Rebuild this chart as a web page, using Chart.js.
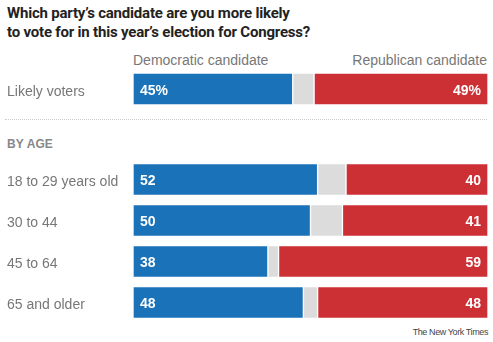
<!DOCTYPE html>
<html>
<head>
<meta charset="utf-8">
<script src="https://cdn.jsdelivr.net/npm/chart.js@4"></script>
<style>
  html, body { margin: 0; padding: 0; background: #fff; }
  body { width: 493px; height: 342px; position: relative; overflow: hidden; font-family: "Liberation Sans", Arial, sans-serif; }
  .title { position: absolute; left: 7px; top: 4px; font-family: Roboto, "Liberation Sans", sans-serif; font-size: 15px; font-weight: bold; color: #222; line-height: 19px; letter-spacing: -0.2px; }
  .hdr { position: absolute; top: 52px; font-size: 14px; color: #777; }
  .sep { position: absolute; left: 5px; width: 482px; top: 119px; border-top: 1px dotted #ccc; }
  .byage { position: absolute; left: 7px; top: 137px; font-size: 12px; font-weight: bold; color: #888; letter-spacing: 0.1px; }
  .credit { position: absolute; right: 5px; top: 327px; font-size: 9px; color: #444; letter-spacing: -0.4px; }
  .box { position: absolute; left: 0; width: 493px; }
</style>
</head>
<body>
<div class="title">Which party’s candidate are you more likely<br>to vote for in this year’s election for Congress?</div>
<div class="hdr" style="left:133px;">Democratic candidate</div>
<div class="hdr" style="right:6px;">Republican candidate</div>
<div class="box" style="top:68px;height:42px;"><canvas id="c1"></canvas></div>
<div class="sep"></div>
<div class="byage">BY AGE</div>
<div class="box" style="top:159px;height:164px;"><canvas id="c2"></canvas></div>
<div class="credit">The New York Times</div>
<script>
// Data
const topCategories = ["Likely voters"];
const topDem = [45];
const topOther = [6];
const topRep = [49];

const ageCategories = ["18 to 29 years old", "30 to 44", "45 to 64", "65 and older"];
const ageDem = [52, 50, 38, 48];
const ageOther = [8, 9, 3, 4];
const ageRep = [40, 41, 59, 48];

const BLUE = "#1a72b8", GRAY = "#dcdcdc", RED = "#cc3035";

const labelPlugin = {
  id: "segLabels",
  afterDatasetsDraw(chart) {
    const ctx = chart.ctx;
    const suffix = chart.options.plugins.segLabels.suffix || "";
    ctx.save();
    ctx.font = "bold 14px 'Liberation Sans', Arial, sans-serif";
    ctx.fillStyle = "#fff";
    ctx.textBaseline = "middle";
    [0, 2].forEach(di => {
      const meta = chart.getDatasetMeta(di);
      const ds = chart.data.datasets[di];
      meta.data.forEach((el, i) => {
        const txt = ds.data[i] + (i === 0 ? suffix : "");
        if (di === 0) {
          ctx.textAlign = "left";
          ctx.fillText(txt, Math.min(el.base, el.x) + 7, el.y + 2);
        } else {
          ctx.textAlign = "right";
          ctx.fillText(txt, Math.max(el.base, el.x) - 7, el.y + 2);
        }
      });
    });
    ctx.restore();
  }
};

function makeChart(id, cats, dem, other, rep, suffix) {
  const ds = (data, color) => ({
    data, backgroundColor: color, borderColor: "#fff", borderWidth: 1,
    borderSkipped: false, barThickness: 32
  });
  return new Chart(document.getElementById(id), {
    type: "bar",
    data: {
      labels: cats,
      datasets: [ds(dem, BLUE), ds(other, GRAY), ds(rep, RED)]
    },
    options: {
      indexAxis: "y",
      responsive: true,
      maintainAspectRatio: false,
      animation: false,
      layout: { padding: { left: 7, right: 5, top: 0, bottom: 0 } },
      plugins: { legend: { display: false }, tooltip: { enabled: false }, segLabels: { suffix } },
      scales: {
        x: { stacked: true, min: 0, max: 100, display: false },
        y: {
          stacked: true,
          grid: { display: false, drawTicks: false },
          border: { display: false },
          ticks: { crossAlign: "far", padding: 0, labelOffset: 3, color: "#777",
                   font: { size: 14, family: "'Liberation Sans', Arial, sans-serif" } },
          afterFit(scale) { scale.width = 126; scale.paddingTop = 0; scale.paddingBottom = 0; }
        }
      }
    },
    plugins: [labelPlugin]
  });
}

makeChart("c1", topCategories, topDem, topOther, topRep, "%");
makeChart("c2", ageCategories, ageDem, ageOther, ageRep, "");
</script>
</body>
</html>
